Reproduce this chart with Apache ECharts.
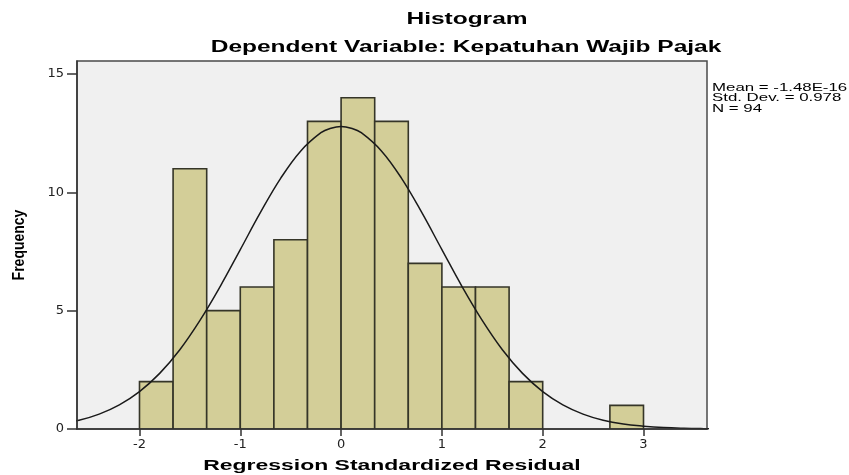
<!DOCTYPE html>
<html><head><meta charset="utf-8">
<script src="https://cdn.jsdelivr.net/npm/echarts@6/dist/echarts.min.js"></script>
<style>html,body{margin:0;padding:0;background:#fff}#c{width:849px;height:475px}</style>
</head><body><div id="c"></div>
<script>
// Histogram bins (start of each bin, width 1/3)
const binStarts = [-2, -5/3, -4/3, -1, -2/3, -1/3, 0, 1/3, 2/3, 1, 4/3, 5/3, 2, 7/3, 8/3];
const binCounts = [2, 11, 5, 6, 8, 13, 14, 13, 7, 6, 6, 2, 0, 0, 1];
const binWidth = 1/3;
// Normal curve
const curveX = [-2.8,-2.6,-2.4,-2.2,-2.0,-1.8,-1.6,-1.4,-1.2,-1.0,-0.8,-0.6,-0.4,-0.2,-0.1,0,0.1,0.2,0.4,0.6,0.8,1.0,1.2,1.4,1.6,1.8,2.0,2.2,2.4,2.6,2.8,3.0,3.2,3.4,3.6,3.8];
const curveY = [0.21,0.37,0.63,1.02,1.58,2.35,3.35,4.59,6.02,7.58,9.15,10.59,11.75,12.52,12.71,12.78,12.71,12.52,11.75,10.59,9.15,7.58,6.02,4.59,3.35,2.35,1.58,1.02,0.63,0.37,0.21,0.12,0.06,0.03,0.015,0.007];
const xTicks = [-2, -1, 0, 1, 2, 3];
const yTicks = [0, 5, 10, 15];
const titleText = 'Histogram';
const subtitleText = 'Dependent Variable: Kepatuhan Wajib Pajak';
const xName = 'Regression Standardized Residual';
const yName = 'Frequency';
const statsLines = ['Mean = -1.48E-16', 'Std. Dev. = 0.978', 'N = 94'];

const chart = echarts.init(document.getElementById('c'));
const barData = binStarts.map((s, i) => [s, s + binWidth, binCounts[i]]).filter(d => d[2] > 0);
const font = '"Liberation Sans", Arial, sans-serif';
const tickFont = '"DejaVu Sans", sans-serif';
const SX = 1.53;
function txt(text, x, y, size, align) {
  return {
    type: 'text', x: x, y: y, scaleX: SX, z: 100,
    style: {text: text, fontFamily: font, fontSize: size, fontWeight: 'bold', fill: '#000',
            align: align, verticalAlign: 'top'}
  };
}
chart.setOption({
  animation: false,
  grid: {left: 77, top: 61, right: 142, bottom: 46, show: true, backgroundColor: '#f0f0f0',
         borderColor: '#4a4a4a', borderWidth: 1.5},
  xAxis: {
    type: 'value', min: -2.62, max: 3.63, z: 10,
    axisLine: {show: true, onZero: false, lineStyle: {color: '#333', width: 1.5}},
    axisTick: {show: true, length: 7, customValues: xTicks, lineStyle: {color: '#333', width: 1.5}},
    axisLabel: {customValues: xTicks, fontFamily: tickFont, fontSize: 13, color: '#222', margin: 9},
    splitLine: {show: false}
  },
  yAxis: {
    type: 'value', min: 0, max: 15.55, z: 10,
    axisLine: {show: true, onZero: false, lineStyle: {color: '#333', width: 1.5}},
    axisTick: {show: true, length: 10, customValues: yTicks, lineStyle: {color: '#333', width: 1.5}},
    axisLabel: {customValues: yTicks, fontFamily: tickFont, fontSize: 13, color: '#222', margin: 13},
    splitLine: {show: false}
  },
  graphic: [
    txt(titleText, 467, 12, 16, 'center'),
    txt(subtitleText, 466, 40, 16, 'center'),
    txt(xName, 392, 458, 15, 'center'),
    {type: 'text', x: 19.5, y: 245, rotation: Math.PI / 2, scaleY: 1.15, z: 100,
     style: {text: yName, fontFamily: font, fontSize: 14, fontWeight: 'bold', fill: '#000',
             align: 'center', verticalAlign: 'middle'}}
  ].concat(statsLines.map((t, i) => ({
    type: 'text', x: 712, y: 82 + i * 10.5, scaleX: SX, z: 100,
    style: {text: t, fontFamily: font, fontSize: 11, fill: '#000', align: 'left', verticalAlign: 'top'}
  }))),
  series: [
    {
      type: 'custom', clip: true,
      renderItem: function (params, api) {
        const p0 = api.coord([api.value(0), api.value(2)]);
        const p1 = api.coord([api.value(1), 0]);
        return {type: 'rect', shape: {x: p0[0], y: p0[1], width: p1[0] - p0[0], height: p1[1] - p0[1]},
                style: {fill: '#d3ce98', stroke: '#353528', lineWidth: 1.6}};
      },
      encode: {x: [0, 1], y: 2},
      data: barData, z: 2
    },
    {
      type: 'line', smooth: 0.4, showSymbol: false, clip: true,
      data: curveX.map((x, i) => [x, curveY[i]]),
      lineStyle: {color: '#1a1a1a', width: 1.5}, z: 3
    }
  ]
});
</script></body></html>
